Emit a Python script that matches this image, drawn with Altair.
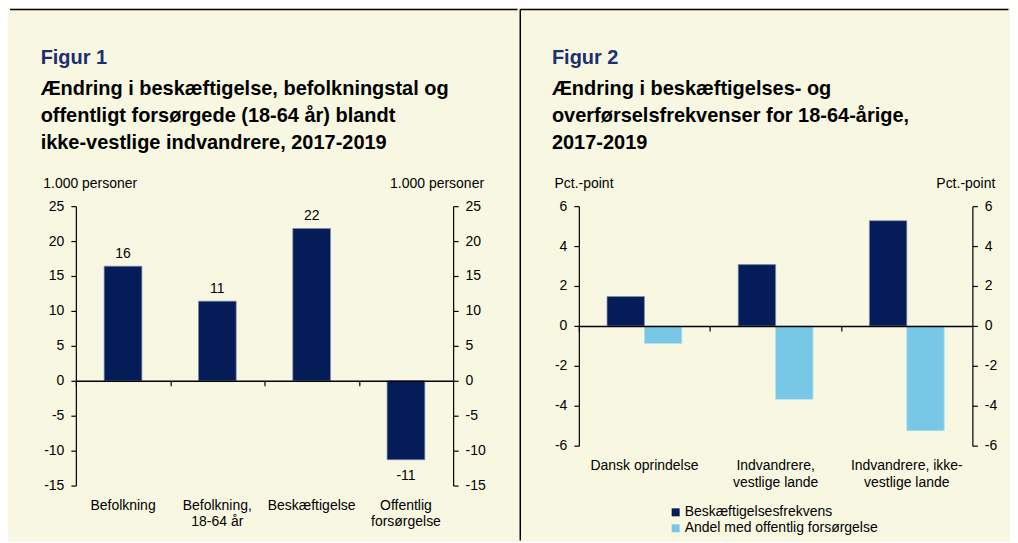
import altair as alt
import pandas as pd

FONT = "Liberation Sans"
NAVY = "#041D59"
LIGHT = "#77C8E6"
NAVY_EDGE = "#7F8CAD"
LIGHT_EDGE = "#B3E0F1"
CREAM = "#F8F8E2"
FIGBLUE = "#1B2F6F"

# ---------------- Figur 1 data ----------------
fig1_categories = ["Befolkning", "Befolkning,|18-64 år", "Beskæftigelse", "Offentlig|forsørgelse"]
fig1_values = [16.4, 11.4, 21.8, -11.3]
fig1_labels = ["16", "11", "22", "-11"]
fig1_yticks = [-15, -10, -5, 0, 5, 10, 15, 20, 25]
fig1_title = ["Ændring i beskæftigelse, befolkningstal og",
              "offentligt forsørgede (18-64 år) blandt",
              "ikke-vestlige indvandrere, 2017-2019"]

# ---------------- Figur 2 data ----------------
fig2_categories = ["Dansk oprindelse", "Indvandrere,|vestlige lande", "Indvandrere, ikke-|vestlige lande"]
fig2_series = ["Beskæftigelsesfrekvens", "Andel med offentlig forsørgelse"]
fig2_employment = [1.47, 3.07, 5.27]
fig2_public = [-0.88, -3.68, -5.25]
fig2_yticks = [-6, -4, -2, 0, 2, 4, 6]
fig2_title = ["Ændring i beskæftigelses- og",
              "overførselsfrekvenser for 18-64-årige,",
              "2017-2019"]

one = alt.Data(values=[{"k": 1}])


def text_layer(text, x, y, size=14, weight="normal", color="black", align="left", line_height=None):
    kw = dict(text=text, align=align, baseline="alphabetic", font=FONT, fontSize=size,
              fontWeight=weight, color=color)
    if line_height:
        kw["lineHeight"] = line_height
    return alt.Chart(one).mark_text(**kw).encode(x=alt.value(x), y=alt.value(y))


def rect_layer(x, x2, y, y2, color):
    return alt.Chart(one).mark_rect(color=color).encode(
        x=alt.value(x), x2=alt.value(x2), y=alt.value(y), y2=alt.value(y2))


def rule_layer(x, x2, y, y2):
    return alt.Chart(one).mark_rule(color="black", strokeWidth=1.5).encode(
        x=alt.value(x), x2=alt.value(x2), y=alt.value(y), y2=alt.value(y2))


def yaxis(orient, values):
    return alt.Axis(orient=orient, values=values, title=None, grid=False,
                    domainColor="black", domainWidth=1.2, tickColor="black", tickWidth=1.2,
                    tickSize=5, labelFont=FONT, labelFontSize=14, labelColor="black",
                    labelPadding=7, labelOverlap=False, labelFlush=False,
                    labelExpr="'' + datum.value", zindex=1)


def label_axis():
    return alt.Axis(orient="bottom", title=None, domain=False, ticks=False, grid=False,
                    labelFont=FONT, labelFontSize=14, labelColor="black", labelPadding=13,
                    labelAngle=0, labelExpr="split(datum.label, '|')", labelLineHeight=16.5,
                    labelOverlap=False, labelBound=False, zindex=1)


def zero_axis(offset, tick_offset):
    return alt.Axis(orient="bottom", offset=offset, title=None, labels=False, grid=False,
                    domainColor="black", domainWidth=1.5, tickColor="black", tickWidth=1.2,
                    tickSize=5, bandPosition=0, tickOffset=tick_offset, zindex=1)


# ---------------- Left panel ----------------
W1, H1 = 378, 280
df1 = pd.DataFrame({"cat": fig1_categories, "val": fig1_values, "lab": fig1_labels})
x1 = alt.Scale(domain=fig1_categories, paddingInner=0.6, paddingOuter=0.3)
y1 = alt.Scale(domain=[-15, 25], nice=False)

bars1 = alt.Chart(df1).mark_bar(color=NAVY, stroke=NAVY_EDGE, strokeWidth=0.7).encode(
    x=alt.X("cat:N", scale=x1, sort=None, axis=label_axis()),
    y=alt.Y("val:Q", scale=y1, stack=None, axis=yaxis("left", fig1_yticks)),
)
ghost1 = alt.Chart(df1).mark_bar(opacity=0).encode(
    x=alt.X("cat:N", scale=x1, sort=None, axis=zero_axis(-105, -28.35)),
    y=alt.Y("val:Q", scale=y1, stack=None, axis=yaxis("right", fig1_yticks)),
)
pos1 = alt.Chart(df1).transform_filter("datum.val > 0").mark_text(
    baseline="alphabetic", dy=-8.6, font=FONT, fontSize=14, color="black").encode(
    x=alt.X("cat:N", scale=x1, sort=None, axis=None),
    y=alt.Y("val:Q", scale=y1, stack=None, axis=None),
    text="lab:N",
)
neg1 = alt.Chart(df1).transform_filter("datum.val < 0").mark_text(
    baseline="alphabetic", dy=20, font=FONT, fontSize=14, color="black").encode(
    x=alt.X("cat:N", scale=x1, sort=None, axis=None),
    y=alt.Y("val:Q", scale=y1, stack=None, axis=None),
    text="lab:N",
)

left = alt.layer(
    rect_layer(-66, 442.5, -196.2, 335, CREAM),
    rule_layer(-66, 442.5, -197, -197),
    bars1, ghost1, pos1, neg1,
    text_layer("Figur 1", -35.3, -142.5, size=20, weight="bold", color=FIGBLUE),
    text_layer(fig1_title, -35.3, -111.7, size=20, weight="bold", line_height=27),
    text_layer("1.000 personer", -32.7, -18.4),
    text_layer("1.000 personer", 409, -18.4, align="right"),
).resolve_axis(x="independent", y="independent").properties(width=W1, height=H1)

# ---------------- Right panel ----------------
W2, H2 = 394.3, 240
rows = []
for i, c in enumerate(fig2_categories):
    rows.append({"cat": c, "series": fig2_series[0], "val": fig2_employment[i]})
    rows.append({"cat": c, "series": fig2_series[1], "val": fig2_public[i]})
df2 = pd.DataFrame(rows)
x2 = alt.Scale(domain=fig2_categories, paddingInner=0.43, paddingOuter=0.215)
y2 = alt.Scale(domain=[-6, 6], nice=False)

bars2 = alt.Chart(df2).mark_bar(strokeWidth=0.7).encode(
    x=alt.X("cat:N", scale=x2, sort=None, axis=label_axis()),
    xOffset=alt.XOffset("series:N", scale=alt.Scale(domain=fig2_series, paddingInner=0, paddingOuter=0)),
    y=alt.Y("val:Q", scale=y2, stack=None, axis=yaxis("left", fig2_yticks)),
    color=alt.Color("series:N", scale=alt.Scale(domain=fig2_series, range=[NAVY, LIGHT]),
                    legend=alt.Legend(orient="none", legendX=90, legendY=299.8, direction="vertical",
                                      title=None, symbolType="square", symbolSize=64,
                                      symbolStrokeWidth=0, labelFont=FONT, labelFontSize=14,
                                      labelColor="black", labelOffset=2, rowPadding=2, padding=0,
                                      labelLimit=400, zindex=1)),
    stroke=alt.Stroke("series:N", scale=alt.Scale(domain=fig2_series, range=[NAVY_EDGE, LIGHT_EDGE]),
                      legend=None),
)
ghost2 = alt.Chart(df2).mark_bar(opacity=0).encode(
    x=alt.X("cat:N", scale=x2, sort=None, axis=zero_axis(-120, -28.26)),
    y=alt.Y("val:Q", scale=y2, stack=None, axis=yaxis("right", fig2_yticks)),
)

right = alt.layer(
    rect_layer(-57.9, 430.5, -196.2, 335, CREAM),
    rule_layer(-58.7, 430.5, -197, -197),
    rule_layer(-58.7, -58.7, -197, 335),
    bars2, ghost2,
    text_layer("Figur 2", -27, -142.5, size=20, weight="bold", color=FIGBLUE),
    text_layer(fig2_title, -27, -111.7, size=20, weight="bold", line_height=27),
    text_layer("Pct.-point", -24.4, -18.4),
    text_layer("Pct.-point", 417.3, -18.4, align="right"),
).resolve_axis(x="independent", y="independent").properties(width=W2, height=H2)

chart = alt.hconcat(left, right, spacing=0).resolve_legend(
    color="independent", stroke="independent").properties(
    padding={"left": 1, "top": 0, "right": 0, "bottom": 0},
    background=CREAM,
).configure_view(strokeWidth=0)

chart.save("out.html", embed_options={"renderer": "svg", "actions": False})
